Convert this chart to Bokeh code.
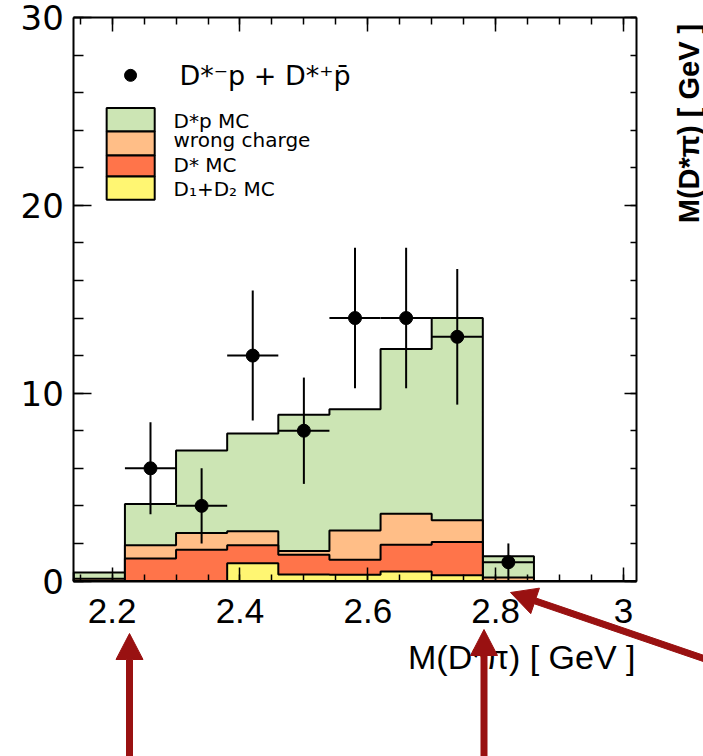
import numpy as np
from bokeh.plotting import figure
from bokeh.models import (Range1d, FixedTicker, LinearAxis, Label, BoxAnnotation, PolyAnnotation)
from bokeh.embed import file_html
from bokeh.resources import INLINE

# ---------------- data ----------------
bin_edges = [2.14, 2.22, 2.30, 2.38, 2.46, 2.54, 2.62, 2.70, 2.78, 2.86, 2.94, 3.02]
d1d2_mc      = [0.00, 0.00, 0.00, 0.95, 0.35, 0.33, 0.50, 0.31, 0.00, 0.0, 0.0]
dstar_mc     = [0.00, 1.20, 1.67, 0.95, 1.05, 0.80, 1.43, 1.77, 0.00, 0.0, 0.0]
wrong_charge = [0.12, 0.70, 0.88, 0.75, 0.20, 1.56, 1.65, 1.16, 0.18, 0.0, 0.0]
dstarp_mc    = [0.33, 2.20, 4.40, 5.20, 7.25, 6.46, 8.77, 10.76, 1.14, 0.0, 0.0]

data_x = [2.26, 2.34, 2.42, 2.50, 2.58, 2.66, 2.74, 2.82]
data_y = [6, 4, 12, 8, 14, 14, 13, 1]
data_err = [2.45, 2.00, 3.46, 2.83, 3.74, 3.74, 3.61, 1.00]
bin_half_width = 0.04

x_lo, x_hi = 2.14, 3.02
y_lo, y_hi = 0, 30
x_major = [2.2, 2.4, 2.6, 2.8, 3.0]
x_labels = ["2.2", "2.4", "2.6", "2.8", "3"]
y_major = [0, 10, 20, 30]

layer_names = ["D*p MC", "wrong charge", "D* MC", "D\u2081+D\u2082 MC"]
layer_colors = ["#cce5b4", "#ffbe87", "#ff744a", "#fff672"]
ARROW = "#991111"

# ---------------- figure ----------------
# The whole canvas is the frame; the plot box is drawn by four axes at fixed locations,
# so that titles and arrows outside the box are not clipped.
W, H = 703, 756
BOX_L, BOX_R, BOX_T, BOX_B = 73.3, 635.7, 17.0, 580.5
sx = (x_hi - x_lo) / (BOX_R - BOX_L)
sy = (y_hi - y_lo) / (BOX_B - BOX_T)
p = figure(frame_width=W, frame_height=H,
           x_range=Range1d(x_lo - BOX_L * sx, x_hi + (W - BOX_R) * sx),
           y_range=Range1d(y_lo - (H - BOX_B) * sy, y_hi + BOX_T * sy),
           output_backend="svg", toolbar_location=None, min_border=0,
           x_axis_type=None, y_axis_type=None)
p.grid.visible = False
p.outline_line_color = None
p.background_fill_color = "white"
p.border_fill_color = "white"

# stacked histogram (drawn back to front)
layers_bottom_up = [np.array(d1d2_mc), np.array(dstar_mc), np.array(wrong_charge), np.array(dstarp_mc)]
cums = np.cumsum(np.vstack(layers_bottom_up), axis=0)
fill_bottom_up = [layer_colors[3], layer_colors[2], layer_colors[1], layer_colors[0]]

def step_polygon(edges, heights):
    xs = [edges[0]]
    ys = [0.0]
    for i, h in enumerate(heights):
        xs += [edges[i], edges[i + 1]]
        ys += [h, h]
    xs.append(edges[-1])
    ys.append(0.0)
    return xs, ys

for k in range(3, -1, -1):
    xs, ys = step_polygon(bin_edges, cums[k])
    p.patch(xs, ys, fill_color=fill_bottom_up[k], line_color="black", line_width=2)

# data points with error bars
dx = np.array(data_x); dy = np.array(data_y); de = np.array(data_err)
p.segment(dx, dy - de, dx, dy + de, line_color="black", line_width=2)
p.segment(dx - bin_half_width, dy, dx + bin_half_width, dy, line_color="black", line_width=2)
p.scatter(dx, dy, size=13, color="black")

# ---------------- axes (fixed locations form the box) ----------------
x_minor = [round(v, 2) for v in np.arange(2.15, 3.0001, 0.05)]
y_minor = list(range(0, 31, 2))

def make_axis(ticks, minor, loc, bounds, major_in, minor_in, font=None, size=None, standoff=0):
    ax = LinearAxis(ticker=FixedTicker(ticks=ticks, minor_ticks=minor),
                    fixed_location=loc, bounds=bounds)
    ax.major_tick_in = major_in
    ax.major_tick_out = 0
    ax.minor_tick_in = minor_in
    ax.minor_tick_out = 0
    ax.axis_line_color = "black"
    ax.axis_line_width = 2
    ax.major_tick_line_color = "black"
    ax.major_tick_line_width = 1.5
    ax.minor_tick_line_color = "black"
    ax.minor_tick_line_width = 1.5
    if font:
        ax.major_label_text_font = font
        ax.major_label_text_font_size = size
        ax.major_label_text_color = "black"
        ax.major_label_standoff = standoff
    else:
        ax.major_label_overrides = {t: "" for t in ticks}
        ax.major_label_standoff = 0
    return ax

bottom = make_axis(x_major, x_minor, y_lo, (x_lo, x_hi), 14, 7, "Liberation Sans", "35px", 18)
bottom.major_label_overrides = dict(zip(x_major, x_labels))
p.add_layout(bottom, "below")
left = make_axis(y_major, y_minor, x_lo, (y_lo, y_hi), 18, 10, "DejaVu Sans", "34px", 10)
p.add_layout(left, "left")
top = make_axis(x_major, x_minor, y_hi, (x_lo, x_hi), 14, 7)
p.add_layout(top, "above")
right = make_axis(y_major, y_minor, x_hi, (y_lo, y_hi), 12, 6)
p.add_layout(right, "right")

# ---------------- titles (canvas pixels) ----------------
p.add_layout(Label(x=635, y=656, x_units="canvas", y_units="canvas",
                   text="M(D*\u03c0) [ GeV ]", text_align="right", text_baseline="alphabetic",
                   text_font="Liberation Sans", text_font_size="34px", text_color="black"))
p.add_layout(Label(x=688, y=123, x_units="canvas", y_units="canvas",
                   text="M(D*\u03c0) [ GeV ]", angle=np.pi / 2,
                   text_align="center", text_baseline="alphabetic", text_font="Liberation Sans",
                   text_font_style="bold", text_font_size="29px", text_color="black"))

# ---------------- legend ----------------
p.scatter([2.2288], [26.92], size=12, color="black")
p.add_layout(Label(x=179, y=75, x_units="canvas", y_units="canvas",
                   text="D*\u207bp + D*\u207ap\u0304", text_font="DejaVu Sans",
                   text_font_size="27px", text_baseline="alphabetic", text_color="black"))
box_edges = [25.18, 23.93, 22.65, 21.53, 20.30]
text_base = [120, 139.5, 164.5, 188]
for i, (name, col) in enumerate(zip(layer_names, layer_colors)):
    p.add_layout(BoxAnnotation(left=2.1914, right=2.2666, bottom=box_edges[i + 1], top=box_edges[i],
                               fill_color=col, fill_alpha=1, line_color="black", line_width=2,
                               line_alpha=1))
    p.add_layout(Label(x=173, y=text_base[i], x_units="canvas", y_units="canvas",
                       text=name, text_font="DejaVu Sans",
                       text_font_size="20px", text_baseline="alphabetic", text_color="black"))

# ---------------- arrows (canvas pixels) ----------------
def arrow_poly(x0, y0, x1, y1, shaft=6.0, head_len=26.0, head_w=27.0):
    s = np.array([x0, y0], float); t = np.array([x1, y1], float)
    u = (t - s) / np.hypot(*(t - s)); n = np.array([-u[1], u[0]])
    b = t - u * head_len
    pts = [s + n * shaft / 2, b + n * shaft / 2, b + n * head_w / 2, t,
           b - n * head_w / 2, b - n * shaft / 2, s - n * shaft / 2]
    return [float(q[0]) for q in pts], [float(q[1]) for q in pts]

for (x0, y0, x1, y1) in [(129, 770, 129, 633), (483.5, 770, 483.5, 629), (712, 661, 510, 592)]:
    axs, ays = arrow_poly(x0, y0, x1, y1)
    p.add_layout(PolyAnnotation(xs=axs, ys=ays, xs_units="canvas", ys_units="canvas",
                                fill_color=ARROW, fill_alpha=1, line_color=ARROW, line_alpha=1,
                                line_width=1))

open("out.html", "w").write(file_html(p, INLINE))
